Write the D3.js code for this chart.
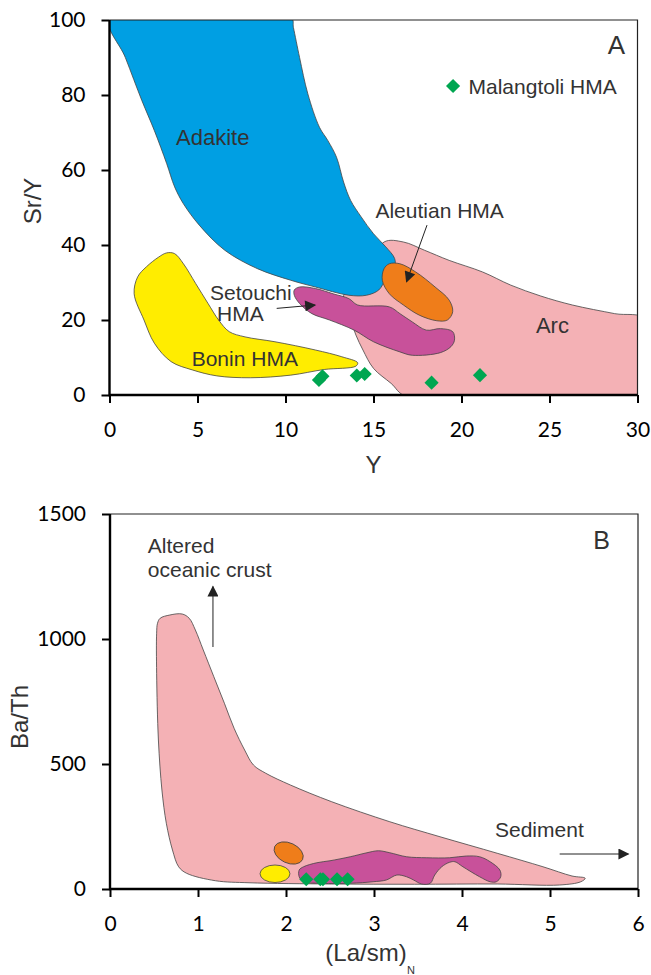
<!DOCTYPE html>
<html>
<head>
<meta charset="utf-8">
<script src="https://cdn.jsdelivr.net/npm/d3@7"></script>
<style>
  body { margin: 0; background: #fff; }
  svg { display: block; }
  .tick text { font-family: Lato, "Open Sans", sans-serif; font-size: 21px; fill: #000; }
  .label { font-family: "Liberation Sans", Arial, sans-serif; font-size: 21px; fill: #333; }
  .title { font-family: "Liberation Sans", Arial, sans-serif; font-size: 24px; fill: #333; }
</style>
</head>
<body>
<div class="container"></div>
<script>
// DATA
// panel A: Sr/Y vs Y, fields are [Y, Sr/Y] outlines
const xTicksA = [0, 5, 10, 15, 20, 25, 30];
const yTicksA = [0, 20, 40, 60, 80, 100];

const adakiteA = [[0, 100.5], [10.33, 100.5], [10.45, 98], [10.8, 90], [11.27, 80.3], [11.93, 71.4],
  [12.4, 67.9], [12.9, 63.4], [13.3, 56.8], [13.7, 51.9], [14.3, 47.5], [15.0, 43], [15.7, 39.5],
  [16.2, 36.4], [16.2, 34.2], [15.7, 31], [15.3, 28], [14.6, 26.6], [13.6, 26.6], [11.7, 28.8],
  [10.3, 30.6], [8.4, 33.7], [6.55, 38.6], [5.1, 45.3], [4.2, 51], [3.7, 55.5], [3.25, 61.7],
  [2.55, 70.5], [1.84, 78.5], [0.9, 90]];

const arcA = [[13.3, 26.5], [14.6, 33], [15.6, 40.8], [16.7, 40.8], [17.9, 38.6], [19.3, 35.9],
  [21.2, 32.8], [22.8, 29.3], [24.5, 26.4], [26.3, 24.0], [28.7, 21.7], [30.5, 20.1], [30.5, -1],
  [16.9, -0.5], [16.0, 3.1], [15.0, 7.1], [14.4, 12], [14.0, 16], [13.7, 20], [13.4, 24]];

const boninA = [[3.25, 37.9], [3.7, 37.7], [4.2, 35], [4.9, 29.7], [5.6, 24.4], [6.2, 20], [6.8, 16.9],
  [7.7, 15.5], [9.4, 14.2], [11.7, 12], [13.2, 10.2], [14.1, 8.6], [14.0, 7.7], [12.2, 6.8],
  [10.3, 5.3], [8.0, 4.6], [6.1, 5.1], [4.7, 6.7], [3.5, 8.9], [2.55, 13.8], [1.96, 20], [1.4, 27],
  [1.6, 31.5], [2.1, 34.2], [2.8, 36.8]];

const aleutianA = [[15.9, 35], [16.5, 35], [17.4, 32.8], [18.5, 28.8], [19.3, 25.3], [19.5, 22.2],
  [19.2, 20], [18.6, 19.8], [17.6, 21.3], [16.7, 24], [15.9, 27], [15.5, 30.6], [15.6, 33.7]];

const setouchiA = [[10.8, 28.8], [11.7, 28.4], [12.7, 27], [13.6, 25.7], [14.1, 24], [15.9, 23.5],
  [16.5, 21.7], [17.2, 19.5], [18.0, 17.3], [18.8, 17.7], [19.5, 16.9], [19.6, 14.6], [19.4, 12.9],
  [18.8, 11.3], [17.2, 10.6], [16.5, 11.5], [15.0, 14.2], [13.9, 17.3], [12.5, 20], [11.5, 21.7],
  [10.8, 24.4], [10.5, 26.6], [10.5, 28]];

const samplesA = [[11.9, 4.0], [12.1, 5.0], [14.05, 5.2], [14.5, 5.6], [18.3, 3.3], [21.05, 5.3]];

// panel B: Ba/Th vs (La/Sm)N
const xTicksB = [0, 1, 2, 3, 4, 5, 6];
const yTicksB = [0, 500, 1000, 1500];

const arcB = [[0.54, 1063], [0.57, 1083], [0.68, 1096], [0.82, 1100], [0.90, 1083], [0.97, 1036],
  [1.06, 956], [1.18, 849], [1.3, 743], [1.41, 643], [1.53, 556], [1.63, 496], [1.77, 463],
  [2.05, 416], [2.52, 349], [3.18, 269], [3.75, 209], [4.4, 143], [4.92, 89], [5.25, 52], [5.4, 43],
  [5.35, 29], [5.11, 16], [4.4, 20], [3.46, 19], [2.52, 20], [1.58, 25], [1.2, 33], [0.87, 63],
  [0.78, 89], [0.71, 156], [0.64, 263], [0.59, 396], [0.55, 596], [0.53, 863], [0.53, 1023]];

const setouchiB = [[2.15, 76], [2.2, 89], [2.35, 105], [2.5, 113], [2.73, 129], [2.92, 145],
  [3.05, 153], [3.18, 145], [3.37, 129], [3.6, 125], [3.86, 125], [4.05, 132], [4.2, 129],
  [4.32, 109], [4.43, 76], [4.44, 49], [4.39, 29], [4.32, 29], [4.2, 49], [4.01, 89], [3.92, 109],
  [3.86, 107], [3.77, 89], [3.69, 56], [3.64, 23], [3.54, 20], [3.45, 36], [3.37, 49], [3.26, 56],
  [3.14, 36], [2.99, 29], [2.73, 23], [2.35, 23], [2.2, 29], [2.15, 49]];

// ellipses: centre, half axes (data units), tilt in degrees
const boninB = { cx: 1.875, cy: 61, rx: 0.17, ry: 35, angle: 0 };
const aleutianB = { cx: 2.03, cy: 144, rx: 0.175, ry: 40, angle: 25 };

const samplesB = [[2.23, 39], [2.39, 39], [2.42, 39], [2.58, 39], [2.70, 39]];

// COLOURS
const colors = {
  adakite: "#009fe3",
  arc: "#f4b1b5",
  bonin: "#ffed00",
  aleutian: "#ef7d1a",
  setouchi: "#c8519a",
  sample: "#00a651"
};

// SELECT
const container = d3.select(".container");
const svg = container
  .append("svg")
  .attr("width", 651)
  .attr("height", 975);

const defs = svg.append("defs");
defs.append("marker")
  .attr("id", "head")
  .attr("viewBox", "0 0 10 10")
  .attr("refX", 9)
  .attr("refY", 5)
  .attr("markerWidth", 13)
  .attr("markerHeight", 11)
  .attr("markerUnits", "userSpaceOnUse")
  .attr("orient", "auto")
  .append("path")
  .attr("d", "M0,0 L10,5 L0,10 Z")
  .attr("fill", "#222");

// PANEL
// builds scales, axes, frame and clip for one panel, returns scales and the clipped layer
function panel(id, box, xDomain, yDomain, xTicks, yTicks) {
  const x = d3.scaleLinear().domain(xDomain).range([box.left, box.right]);
  const y = d3.scaleLinear().domain(yDomain).range([box.bottom, box.top]);

  defs.append("clipPath")
    .attr("id", "clip" + id)
    .append("rect")
    .attr("x", box.left)
    .attr("y", box.top)
    .attr("width", box.right - box.left)
    .attr("height", box.bottom - box.top);

  const layer = svg.append("g").attr("clip-path", `url(#clip${id})`);

  // frame top and right
  svg.append("path")
    .attr("d", `M${box.left},${box.top} H${box.right} V${box.bottom}`)
    .attr("fill", "none")
    .attr("stroke", "#222")
    .attr("stroke-width", 1.2);

  svg.append("g")
    .attr("transform", `translate(0,${box.bottom})`)
    .call(d3.axisBottom(x).tickValues(xTicks).tickSize(8).tickPadding(19).tickFormat(d3.format("d")))
    .call(g => g.select(".domain").remove());

  svg.append("g")
    .attr("transform", `translate(${box.left},0)`)
    .call(d3.axisLeft(y).tickValues(yTicks).tickSize(8).tickPadding(16).tickFormat(d3.format("d")))
    .call(g => g.select(".domain").remove());

  svg.selectAll(".tick line").attr("stroke", "#000").attr("stroke-width", 2);

  // thick left and bottom axis lines
  svg.append("path")
    .attr("d", `M${box.left},${box.top} V${box.bottom} H${box.right}`)
    .attr("fill", "none")
    .attr("stroke", "#000")
    .attr("stroke-width", 2.4);

  return { x, y, layer };
}

function field(p, pts, fill) {
  const line = d3.line()
    .x(d => p.x(d[0]))
    .y(d => p.y(d[1]))
    .curve(d3.curveCatmullRomClosed.alpha(0.5));
  p.layer.append("path")
    .attr("d", line(pts))
    .attr("fill", fill)
    .attr("stroke", "#444")
    .attr("stroke-width", 0.8);
}

function ellipse(p, e, fill) {
  const cx = p.x(e.cx), cy = p.y(e.cy);
  p.layer.append("ellipse")
    .attr("cx", cx)
    .attr("cy", cy)
    .attr("rx", p.x(e.cx + e.rx) - cx)
    .attr("ry", cy - p.y(e.cy + e.ry))
    .attr("transform", `rotate(${e.angle},${cx},${cy})`)
    .attr("fill", fill)
    .attr("stroke", "#444")
    .attr("stroke-width", 0.8);
}

const diamond = d3.symbol().type(d3.symbolSquare).size(100);

function samples(p, pts) {
  svg.append("g")
    .selectAll("path")
    .data(pts)
    .enter()
    .append("path")
    .attr("d", diamond)
    .attr("transform", d => `translate(${p.x(d[0])},${p.y(d[1])}) rotate(45)`)
    .attr("fill", colors.sample);
}

function label(p, text, dx, dy, cls) {
  return svg.append("text")
    .attr("class", cls || "label")
    .attr("x", p.x(dx))
    .attr("y", p.y(dy))
    .text(text);
}

function arrow(p, from, to) {
  svg.append("line")
    .attr("x1", p.x(from[0]))
    .attr("y1", p.y(from[1]))
    .attr("x2", p.x(to[0]))
    .attr("y2", p.y(to[1]))
    .attr("stroke", "#222")
    .attr("stroke-width", 1)
    .attr("marker-end", "url(#head)");
}

// PANEL A
const a = panel("A", { left: 109.5, right: 637.5, top: 20, bottom: 395 }, [0, 30], [0, 100], xTicksA, yTicksA);
field(a, arcA, colors.arc);
field(a, adakiteA, colors.adakite);
field(a, boninA, colors.bonin);
field(a, aleutianA, colors.aleutian);
field(a, setouchiA, colors.setouchi);
samples(a, samplesA);

label(a, "Adakite", 3.78, 66.7).style("font-size", "22px");
label(a, "Aleutian HMA", 15.11, 47.2);
label(a, "Setouchi", 5.71, 25.3);
label(a, "HMA", 6.11, 19.7);
label(a, "Bonin HMA", 4.67, 7.7);
label(a, "Arc", 24.23, 16.5).style("font-size", "22px");
arrow(a, [18.04, 45.3], [16.88, 30.2]);
arrow(a, [9.5, 23.1], [11.68, 24.0]);

// legend
svg.append("path")
  .attr("d", diamond)
  .attr("transform", `translate(${a.x(19.52)},${a.y(82.4)}) rotate(45)`)
  .attr("fill", colors.sample);
label(a, "Malangtoli HMA", 20.4, 80.3);
label(a, "A", 29.3, 90.9).attr("text-anchor", "end").style("font-size", "26px");

svg.append("text")
  .attr("class", "title")
  .attr("transform", "translate(41,201) rotate(-90)")
  .attr("text-anchor", "middle")
  .text("Sr/Y");
svg.append("text")
  .attr("class", "title")
  .attr("x", a.x(15))
  .attr("y", 473)
  .attr("text-anchor", "middle")
  .text("Y");

// PANEL B
const b = panel("B", { left: 110, right: 638, top: 514, bottom: 889 }, [0, 6], [0, 1500], xTicksB, yTicksB);
field(b, arcB, colors.arc);
ellipse(b, aleutianB, colors.aleutian);
ellipse(b, boninB, colors.bonin);
field(b, setouchiB, colors.setouchi);
samples(b, samplesB);

label(b, "Altered", 0.43, 1344);
label(b, "oceanic crust", 0.43, 1248);
label(b, "Sediment", 4.375, 208);
arrow(b, [1.17, 968], [1.17, 1210]);
arrow(b, [5.11, 140], [5.89, 140]);
label(b, "B", 5.68, 1360).attr("text-anchor", "end").style("font-size", "25px");

svg.append("text")
  .attr("class", "title")
  .attr("transform", "translate(28,717) rotate(-90)")
  .attr("text-anchor", "middle")
  .text("Ba/Th");
svg.append("text")
  .attr("class", "title")
  .attr("x", 366)
  .attr("y", 961)
  .attr("text-anchor", "middle")
  .text("(La/sm)");
svg.append("text")
  .attr("class", "title")
  .attr("x", 407)
  .attr("y", 974)
  .style("font-size", "11px")
  .text("N");
</script>
</body>
</html>
